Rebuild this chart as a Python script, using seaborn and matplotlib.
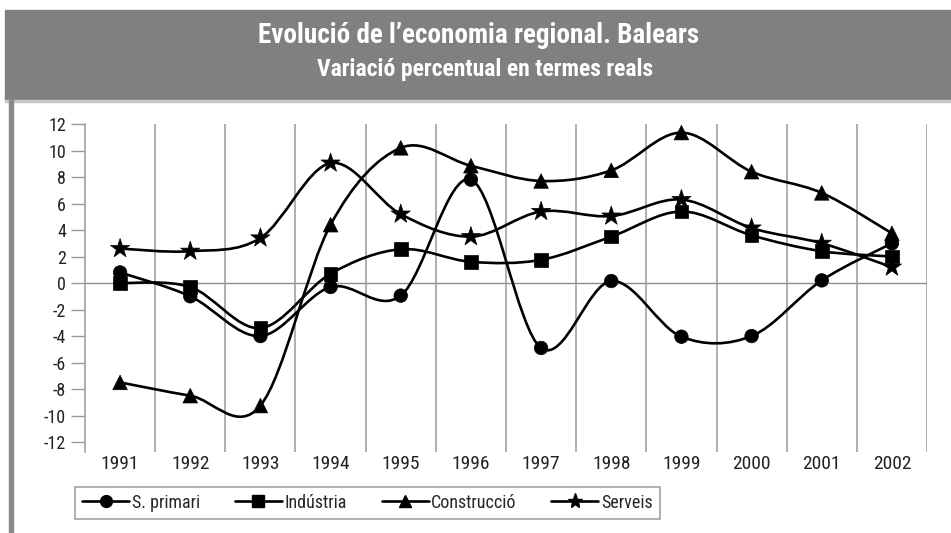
import numpy as np
import pandas as pd
import seaborn as sns
import matplotlib.pyplot as plt
from matplotlib.path import Path
from matplotlib.patches import PathPatch, Rectangle
from matplotlib.lines import Line2D

anys = ["1991", "1992", "1993", "1994", "1995", "1996",
        "1997", "1998", "1999", "2000", "2001", "2002"]
primari = [0.8, -1.0, -4.0, -0.3, -0.95, 7.8, -4.9, 0.15, -4.05, -4.0, 0.2, 3.0]
industria = [0.0, -0.3, -3.4, 0.7, 2.55, 1.6, 1.75, 3.5, 5.4, 3.6, 2.4, 2.0]
construccio = [-7.5, -8.5, -9.25, 4.4, 10.2, 8.85, 7.7, 8.5, 11.35, 8.4, 6.8, 3.75]
serveis = [2.6, 2.4, 3.4, 9.05, 5.2, 3.5, 5.4, 5.05, 6.3, 4.15, 3.0, 1.2]

noms = ["S. primari", "Indústria", "Construcció", "Serveis"]
series = [primari, industria, construccio, serveis]
marcadors = {"S. primari": "o", "Indústria": "s", "Construcció": "^", "Serveis": "*"}
mides = {"S. primari": 95, "Indústria": 95, "Construcció": 110, "Serveis": 210}

d = pd.DataFrame({
    "any": anys * 4,
    "pos": list(range(len(anys))) * 4,
    "valor": sum(series, []),
    "serie": sum([[n] * len(anys) for n in noms], []),
})

sns.set_theme(style="white")
narrow = ["Roboto Condensed", "Archivo Narrow", "IBM Plex Sans Condensed", "DejaVu Sans"]
plt.rcParams["font.family"] = narrow


def suau(xs, ys):
    # corba tipus Excel (Catmull-Rom en Bezier cubica)
    pts = np.column_stack([xs, ys])
    n = len(pts)
    verts = [pts[0]]
    codes = [Path.MOVETO]
    for i in range(n - 1):
        p0 = pts[max(i - 1, 0)]
        p1 = pts[i]
        p2 = pts[i + 1]
        p3 = pts[min(i + 2, n - 1)]
        c1 = p1 + (p2 - p0) / 6
        c2 = p2 - (p3 - p1) / 6
        verts += [c1, c2, p2]
        codes += [Path.CURVE4] * 3
    return Path(verts, codes)


fig = plt.figure(figsize=(9.51, 5.33), dpi=100)
W, H = 951, 533

# banda del titol i barra lateral
fig.patches.append(Rectangle((5 / W, 1 - 100 / H), 1 - 5 / W, 90 / H,
                             transform=fig.transFigure, color="#808080", zorder=0))
fig.patches.append(Rectangle((5 / W, 1 - 102 / H), 1 - 5 / W, 2 / H,
                             transform=fig.transFigure, color="#c8c8c8", zorder=0))
fig.patches.append(Rectangle((9 / W, 0), 4 / W, 1 - 100 / H,
                             transform=fig.transFigure, color="#8a8a8a", zorder=0))
fig.text(479 / W, 1 - 43 / H, "Evolució de l’economia regional. Balears",
         ha="center", va="baseline", color="white", fontsize=19.5, fontweight="bold")
fig.text(485 / W, 1 - 76 / H, "Variació percentual en termes reals",
         ha="center", va="baseline", color="white", fontsize=17, fontweight="bold")

ax = fig.add_axes([85 / W, 1 - 452 / H, (927 - 85) / W, (452 - 124) / H])
ax.set_xlim(-0.5, 11.5)
ax.set_ylim(-12.75, 12)

for i, nom in enumerate(noms):
    ax.add_patch(PathPatch(suau(np.arange(len(anys)), series[i]), facecolor="none",
                           edgecolor="black", lw=1.9, zorder=3))

sns.scatterplot(data=d, x="pos", y="valor", style="serie", markers=marcadors,
                size="serie", sizes=mides, color="black", edgecolor="black",
                linewidth=0.5, legend=False, ax=ax, zorder=4)

ax.axhline(0, color="#8c8c8c", lw=1, zorder=1)
for xv in np.arange(0.5, 12, 1):
    ax.axvline(xv, color="#9a9a9a", lw=1.1, zorder=1)

for s in ["top", "right", "bottom"]:
    ax.spines[s].set_visible(False)
ax.spines["left"].set_color("#9a9a9a")
ax.spines["left"].set_linewidth(1.1)

ax.set_yticks(np.arange(-12, 13, 2))
ax.set_yticklabels([str(v) for v in range(-12, 13, 2)])
ax.set_xticks(range(len(anys)))
ax.set_xticklabels(anys)
ax.tick_params(axis="y", length=10, width=1, color="#9a9a9a", labelsize=13,
               labelcolor="#222222", pad=3.5, left=True)
ax.tick_params(axis="x", length=0, labelsize=14, labelcolor="#222222", pad=2)
ax.set_xlabel("")
ax.set_ylabel("")

handles = [Line2D([], [], color="black", lw=1.9, marker=marcadors[n],
                  markersize=11 if n == "Serveis" else 8.5) for n in noms]
leg = fig.legend(handles, noms, loc="lower left",
                 bbox_to_anchor=(75 / W, 1 - 519 / H, (660 - 75) / W, 37 / H),
                 ncol=4, mode="expand", frameon=True, fancybox=False,
                 edgecolor="#8c8c8c", fontsize=13, handlelength=2.6,
                 handletextpad=0.15, columnspacing=1.5, borderaxespad=0)
leg.get_frame().set_linewidth(1.2)

plt.savefig("out.png", dpi=100)
